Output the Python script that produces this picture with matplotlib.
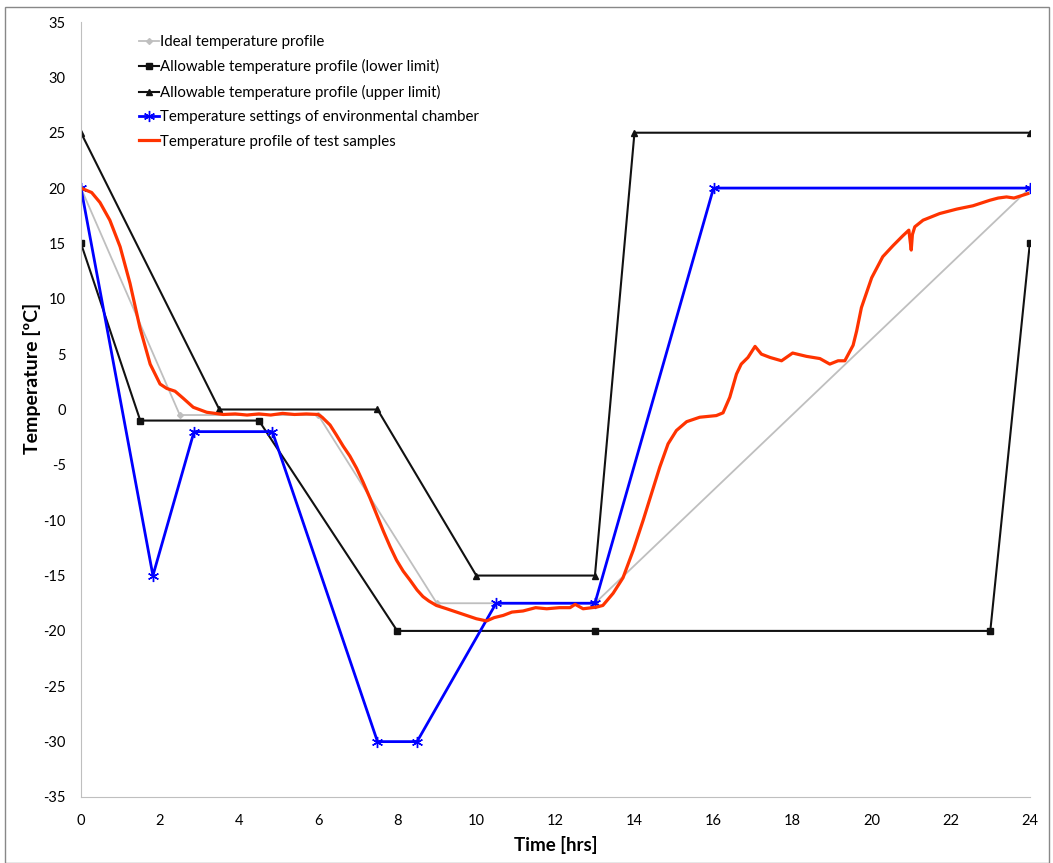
import matplotlib as mpl
import matplotlib.pyplot as plt
from matplotlib.patches import Rectangle

mpl.rcParams['font.family'] = ['Lato', 'DejaVu Sans']
mpl.rcParams['axes.unicode_minus'] = False

# ideal profile
ideal_t = [0, 2.5, 6, 9, 13, 24]
ideal_T = [20, -0.5, -0.5, -17.5, -17.5, 20]

# allowable limits
low_t = [0, 1.5, 4.5, 8, 13, 23, 24]
low_T = [15, -1, -1, -20, -20, -20, 15]
up_t = [0, 3.5, 7.5, 10, 13, 14, 24]
up_T = [25, 0, 0, -15, -15, 25, 25]

# chamber settings
ch_t = [0, 1.82, 2.86, 4.84, 7.5, 8.5, 10.5, 13, 16, 24]
ch_T = [20, -15, -2, -2, -30, -30, -17.5, -17.5, 20, 20]

# measured sample temperature
smp_t = [0, 0.27, 0.48, 0.73, 0.99, 1.24, 1.49, 1.75, 2.0, 2.17, 2.38, 2.59, 2.84,
         3.18, 3.6, 3.9, 4.2, 4.5, 4.8, 5.1, 5.4, 5.7, 6.0, 6.1, 6.3, 6.46, 6.63,
         6.8, 6.97, 7.14, 7.31, 7.48, 7.65, 7.82, 7.98, 8.15, 8.32, 8.5, 8.65,
         8.8, 8.99, 9.25, 9.5, 9.75, 10.0, 10.26, 10.45, 10.68,
         10.9, 11.18, 11.5, 11.78, 12.1, 12.37, 12.5, 12.7, 13.04, 13.2, 13.46,
         13.71, 13.97, 14.22, 14.43, 14.64, 14.85, 15.06, 15.32, 15.65, 16.07,
         16.24, 16.41, 16.58, 16.7, 16.87, 17.05, 17.21, 17.43, 17.72, 18.0, 18.35,
         18.69, 18.94, 19.15, 19.32, 19.53, 19.62, 19.74, 20.0, 20.28, 20.54,
         20.79, 20.94, 20.98, 21.0, 21.03, 21.09, 21.3, 21.72, 22.15, 22.56,
         22.99, 23.2, 23.41, 23.6, 23.95]
smp_T = [20, 19.6, 18.7, 17.1, 14.7, 11.4, 7.4, 4.1, 2.3, 1.9, 1.65, 1.0, 0.2,
         -0.25, -0.45, -0.4, -0.5, -0.4, -0.5, -0.35, -0.45, -0.4, -0.45, -0.7,
         -1.4, -2.3, -3.3, -4.2, -5.3, -6.6, -8.0, -9.5, -11.0, -12.4, -13.6,
         -14.6, -15.4, -16.3, -16.9, -17.3, -17.7, -18.0, -18.3, -18.6,
         -18.9, -19.1, -18.8, -18.6, -18.3, -18.2, -17.9, -18.0, -17.9, -17.9,
         -17.6, -18.0, -17.85, -17.7, -16.6, -15.2, -12.7, -10.0, -7.6, -5.2,
         -3.1, -1.9, -1.1, -0.7, -0.55, -0.3, 1.1, 3.2, 4.1, 4.7, 5.7, 5.0, 4.7,
         4.4, 5.1, 4.8, 4.6, 4.1, 4.4, 4.4, 5.8, 7.1, 9.2, 11.9, 13.8, 14.8, 15.7,
         16.2, 15.0, 14.4, 15.8, 16.5, 17.1, 17.7, 18.1, 18.4, 18.9, 19.1, 19.2,
         19.1, 19.5]

fig = plt.figure(figsize=(10.53, 8.63), dpi=100)
ax = fig.add_axes([0.0769, 0.0765, 0.9011, 0.898])

ax.plot(ideal_t, ideal_T, color='#BFBFBF', lw=1.3, marker='D', ms=3,
        label='Ideal temperature profile')
ax.plot(low_t, low_T, color='#111111', lw=1.5, marker='s', ms=5,
        label='Allowable temperature profile (lower limit)')
ax.plot(up_t, up_T, color='#111111', lw=1.5, marker='^', ms=5,
        label='Allowable temperature profile (upper limit)')
ax.plot(ch_t, ch_T, color='#0000FF', lw=2, marker=(6, 2, 0), ms=8, mew=1,
        label='Temperature settings of environmental chamber')
ax.plot(smp_t, smp_T, color='#FF3300', lw=2.3,
        label='Temperature profile of test samples')

ax.set_xlim(0, 24)
ax.set_ylim(-35, 35)
ax.set_xticks(range(0, 25, 2))
ax.set_yticks(range(-35, 36, 5))
ax.tick_params(length=0, labelsize=10.5)
ax.tick_params(axis='x', pad=12)
ax.tick_params(axis='y', pad=11)
for s in ['top', 'right']:
    ax.spines[s].set_visible(False)
for s in ['left', 'bottom']:
    ax.spines[s].set_color('#BFBFBF')
ax.set_xlabel('Time [hrs]', fontsize=13.5, fontweight='bold', labelpad=6)
ax.set_ylabel('Temperature [ºC]', fontsize=14, fontweight='bold')
ax.yaxis.set_label_coords(-0.042, 0.54)

ax.legend(loc='upper left', bbox_to_anchor=(0.055, 0.991), frameon=False,
          fontsize=10.8, handlelength=1.35, handletextpad=0.05, labelspacing=0.69,
          borderaxespad=0)

fig.patches.append(Rectangle((5 / 1053, 0), 1044 / 1053, 856 / 863,
                             transform=fig.transFigure, fill=False,
                             edgecolor='#888888', lw=1))

fig.savefig('out.png', dpi=100)
